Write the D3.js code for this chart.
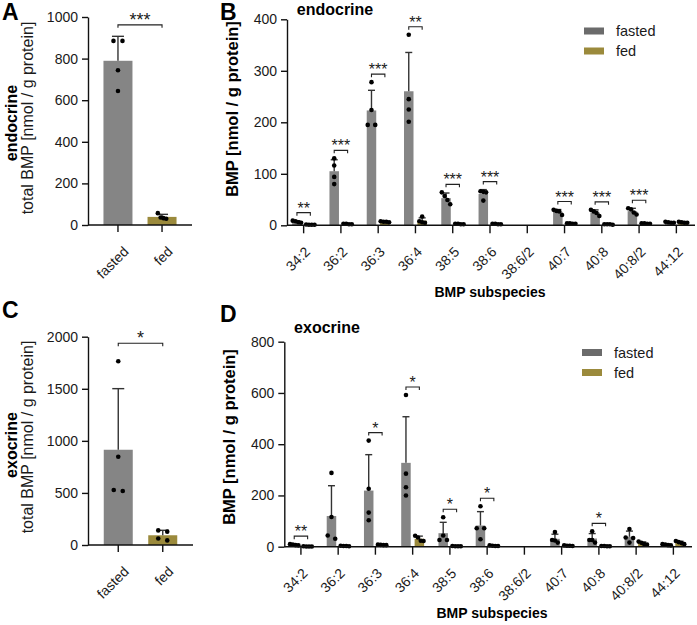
<!DOCTYPE html>
<html><head><meta charset="utf-8">
<script src="https://cdn.jsdelivr.net/npm/d3@7"></script>
<style>body{margin:0;background:#fff}svg{display:block;font-family:'Liberation Sans',Arial,Helvetica,sans-serif}</style>
</head><body><svg id="c" width="697" height="625"></svg>
<script>
// ---------- data ----------
const groups = ["fasted", "fed"];
const endoTotalFasted = [885, 885, 744, 644];
const endoTotalFed = [57, 33, 30, 36];
const exoTotalFasted = [1764, 848, 518, 528];
const exoTotalFed = [140, 128, 62, 44];

const subspecies = ["34:2","36:2","36:3","36:4","38:5","38:6","38:6/2","40:7","40:8","40:8/2","44:12"];
const endoFasted = [[9,8,6,5],[130,116,94,80],[278,224,195,195],[370,245,225,201],[64,57,49,41],[66,65,64,48],[],[30,28,27,20],[30,27,24,18],[33,31,25,21],[7,6,5,5]];
const endoFed = [[1.5,1,1,1],[3,3,2,2],[8,7,7,6],[17,8,6,5],[3,3,2,2],[3,3,2,2],[],[4,4,3,3],[2,2,2,1],[4,4,3,3],[7,6,5,5]];
const endoSig = ["**","***","***","**","***","***","","***","***","***",""];
const exoFasted = [[10,8,6,5],[288,116,44,31],[414,226,133,103],[592,285,232,200],[115,44,26,26],[158,72,72,29],[],[57,26,24,16],[60,26,26,16],[69,36,34,16],[10,8,6,5]];
const exoFed = [[2,1,1,1],[4,3,3,2],[8,7,6,6],[43,36,23,22],[3,2,2,2],[5,4,3,3],[],[5,4,4,3],[3,3,2,2],[20,15,10,8],[22,18,14,10]];
const exoSig = ["**","","*","*","*","*","","","*","",""];
const totalSigEndo = "***";
const totalSigExo = "*";

const yTicksA = [0,200,400,600,800,1000];
const yTicksC = [0,500,1000,1500,2000];
const yTicksB = [0,100,200,300,400];
const yTicksD = [0,200,400,600,800];

// ---------- style ----------
const colFasted = "#858585", colFed = "#9b8a3c";
const legFasted = "#6b6b6b", legFed = "#9b8a3c";
const errCol = "#333", txt = "#1a1a1a";
const R = 2.3;

const svg = d3.select("#c");

function spread(vals, y, cx, pairGap) {
  const pts = vals.map(v => ({v, py: y(v)})).sort((a,b)=>a.py-b.py);
  const cl = [];
  pts.forEach(p => { const l = cl[cl.length-1]; if (l && p.py - l[l.length-1].py < R*2) l.push(p); else cl.push([p]); });
  const out = [];
  cl.forEach(c => {
    const n = c.length, gap = n === 2 ? pairGap : 2.8;
    c.forEach((p,i)=>out.push({x: cx + (i-(n-1)/2)*gap, y: p.py}));
  });
  return out;
}

function drawGroup(g, vals, cx, bw, y, fill, cap, pairGap) {
  if (!vals.length) return null;
  const m = d3.mean(vals), sd = d3.deviation(vals);
  const y0 = y(0);
  g.append("rect").attr("x", cx-bw/2).attr("y", y(m)).attr("width", bw).attr("height", y0-y(m)).attr("fill", fill);
  g.append("line").attr("x1",cx).attr("x2",cx).attr("y1",y(m)).attr("y2",y(m+sd)).attr("stroke",errCol).attr("stroke-width",1.4);
  g.append("line").attr("x1",cx-cap/2).attr("x2",cx+cap/2).attr("y1",y(m+sd)).attr("y2",y(m+sd)).attr("stroke",errCol).attr("stroke-width",1.4);
  spread(vals, y, cx, pairGap).forEach(p => g.append("circle").attr("cx",p.x).attr("cy",p.y).attr("r",R).attr("fill","#000"));
  return Math.max(d3.max(vals), m+sd);
}

function bracket(g, x1, x2, yb, label, fs) {
  g.append("path").attr("d", `M${x1},${yb+3}V${yb}H${x2}V${yb+3}`).attr("fill","none").attr("stroke","#222").attr("stroke-width",1.1);
  g.append("text").attr("x",(x1+x2)/2).attr("y",yb+1).attr("text-anchor","middle").attr("font-size",fs).attr("fill",txt).text(label);
}

function yAxis(g, y, x, ticks) {
  const ax = g.append("g").attr("transform",`translate(${x},0)`)
    .call(d3.axisLeft(y).tickValues(ticks).tickSize(6).tickSizeOuter(0).tickPadding(4).tickFormat(d3.format("d")));
  ax.select(".domain").attr("stroke","#111").attr("stroke-width",1.4);
  ax.selectAll(".tick line").attr("stroke","#111").attr("stroke-width",1.4);
  ax.selectAll(".tick text").attr("font-size",14).attr("fill",txt).attr("font-family","'Liberation Sans',Arial,sans-serif");
}

function panelTotal(o) {
  const g = svg.append("g");
  const y = d3.scaleLinear().domain([0, o.max]).range([o.y0, o.yTop]);
  const x = d3.scalePoint().domain(groups).range([o.ax, o.axEnd]).padding(0.68);
  const bw = 29;
  const t1 = drawGroup(g, o.fasted, x("fasted"), bw, y, colFasted, 12, 9);
  const t2 = drawGroup(g, o.fed, x("fed"), bw, y, colFed, 12, 9);
  yAxis(g, y, o.ax, o.ticks);
  g.append("line").attr("x1",o.ax).attr("x2",o.axEnd).attr("y1",o.y0).attr("y2",o.y0).attr("stroke","#111").attr("stroke-width",1.4);
  groups.forEach(k => {
    g.append("line").attr("x1",x(k)).attr("x2",x(k)).attr("y1",o.y0).attr("y2",o.y0+7).attr("stroke","#111").attr("stroke-width",1.4);
    g.append("text").attr("transform",`translate(${x(k)+8},${o.y0+24}) rotate(-45)`).attr("text-anchor","end").attr("dy","0.35em").attr("font-size",14).attr("fill",txt).text(k);
  });
  const top = Math.max(t1,t2);
  bracket(g, x("fasted"), x("fed"), y(top) - o.brOff, o.sig, 18);
  g.append("text").attr("x",2).attr("y",o.labY).attr("font-size",23).attr("font-weight","bold").attr("fill","#000").text(o.letter);
  g.append("text").attr("transform",`translate(17,${o.tisY}) rotate(-90)`).attr("text-anchor","middle").attr("font-size",16).attr("font-weight","bold").attr("fill","#000").text(o.tissue);
  g.append("text").attr("transform",`translate(33,${o.totY}) rotate(-90)`).attr("text-anchor","middle").attr("font-size",16).attr("fill",txt).text("total BMP [nmol / g protein]");
}

function panelSub(o) {
  const g = svg.append("g");
  const y = d3.scaleLinear().domain([0, o.max]).range([o.y0, o.yTop]);
  const x = d3.scaleBand().domain(subspecies).range([o.ax-2, o.axEnd]);
  const off = 6.7, bw = 9.5;
  subspecies.forEach((s,i) => {
    const c = x(s) + x.bandwidth()/2;
    const t1 = drawGroup(g, o.fasted[i], c-off, bw, y, colFasted, 7, 7.5);
    const t2 = drawGroup(g, o.fed[i], c+off, bw, y, colFed, 7, 7.5);
    if (o.sig[i]) bracket(g, c-off, c+off, y(Math.max(t1,t2)) - 8, o.sig[i], 16);
  });
  yAxis(g, y, o.ax, o.ticks);
  g.append("line").attr("x1",o.ax).attr("x2",o.axEnd).attr("y1",o.y0).attr("y2",o.y0).attr("stroke","#111").attr("stroke-width",1.4);
  subspecies.forEach(s => {
    const c = x(s) + x.bandwidth()/2;
    g.append("line").attr("x1",c).attr("x2",c).attr("y1",o.y0).attr("y2",o.y0+8).attr("stroke","#111").attr("stroke-width",1.4);
    g.append("text").attr("transform",`translate(${c+4},${o.y0+24}) rotate(-45)`).attr("text-anchor","end").attr("dy","0.35em").attr("font-size",14).attr("fill",txt).text(s);
  });
  g.append("text").attr("x",o.xlabX).attr("y",o.xlabY).attr("text-anchor","middle").attr("font-size",14).attr("font-weight","bold").attr("fill","#000").text("BMP subspecies");
  g.append("text").attr("transform",`translate(${o.ylabX},${o.ylabY}) rotate(-90)`).attr("text-anchor","middle").attr("font-size",16.5).attr("font-weight","bold").attr("fill","#000").text("BMP [nmol / g protein]");
  g.append("text").attr("x",o.titleX).attr("y",o.titleY).attr("text-anchor","middle").attr("font-size",16).attr("font-weight","bold").attr("fill","#000").text(o.title);
  g.append("text").attr("x",220).attr("y",o.labY).attr("font-size",23).attr("font-weight","bold").attr("fill","#000").text(o.letter);
  const lg = g.append("g");
  [["fasted",legFasted],["fed",legFed]].forEach((d,i) => {
    const yy = o.legY + i*20;
    lg.append("rect").attr("x",o.legX).attr("y",yy-3.5).attr("width",20).attr("height",7).attr("fill",d[1]);
    lg.append("text").attr("x",o.legX+32).attr("y",yy).attr("dy","0.35em").attr("font-size",14.5).attr("fill",txt).text(d[0]);
  });
}

panelTotal({fasted: endoTotalFasted, fed: endoTotalFed, max: 1000, ticks: yTicksA, y0: 225, yTop: 17, ax: 88, axEnd: 192, sig: totalSigEndo, brOff: 11.5, letter: "A", labY: 20, tissue: "endocrine", tisY: 123, totY: 118});
panelTotal({fasted: exoTotalFasted, fed: exoTotalFed, max: 2000, ticks: yTicksC, y0: 545, yTop: 336.7, ax: 88, axEnd: 193, sig: totalSigExo, brOff: 18, letter: "C", labY: 318, tissue: "exocrine", tisY: 445, totY: 437});
panelSub({fasted: endoFasted, fed: endoFed, sig: endoSig, max: 400, ticks: yTicksB, y0: 225.3, yTop: 19.3, ax: 287, axEnd: 695, xlabX: 490, xlabY: 297, ylabX: 238, ylabY: 109, title: "endocrine", titleX: 335, titleY: 15, letter: "B", labY: 20, legX: 584, legY: 31});
panelSub({fasted: exoFasted, fed: exoFed, sig: exoSig, max: 800, ticks: yTicksD, y0: 546.7, yTop: 341.7, ax: 284.3, axEnd: 692, xlabX: 492, xlabY: 618, ylabX: 235, ylabY: 437, title: "exocrine", titleX: 327, titleY: 333, letter: "D", labY: 322, legX: 582, legY: 352.5});
</script>
</body></html>
